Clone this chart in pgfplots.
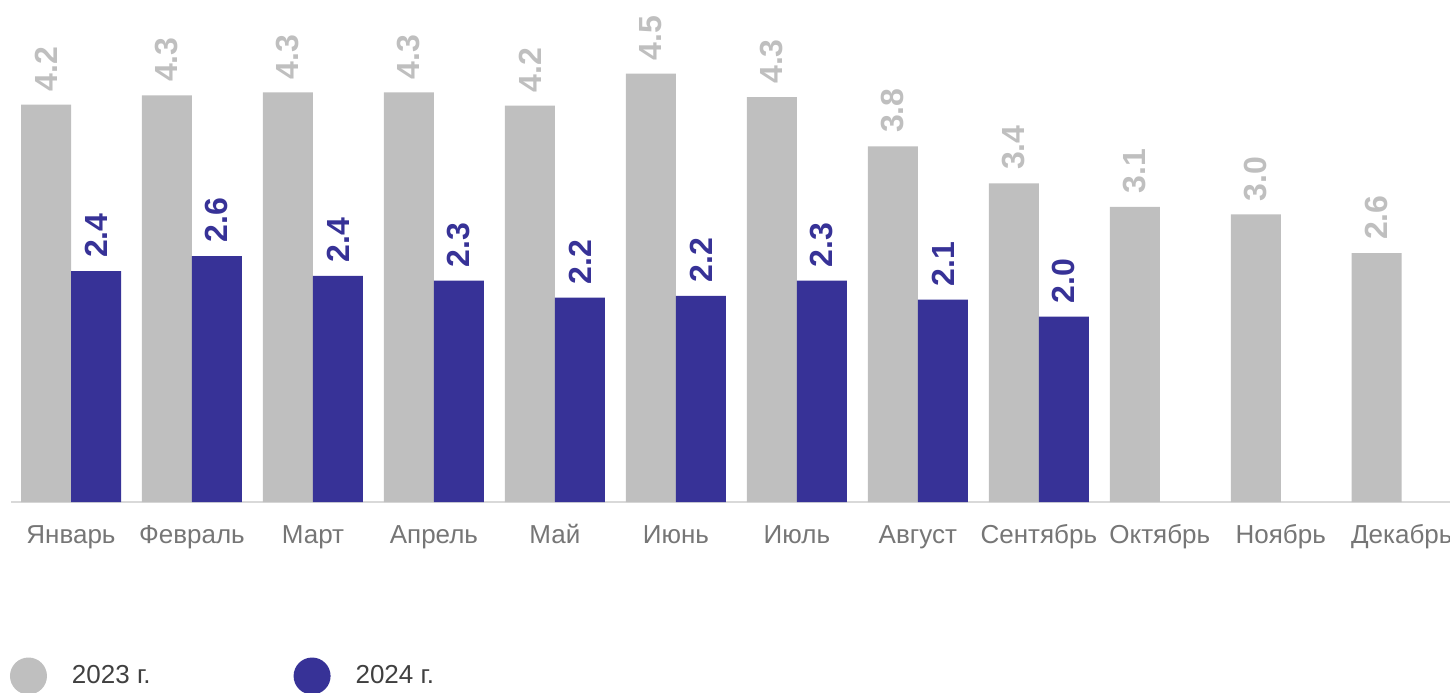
\documentclass[border=0pt]{standalone}
\usepackage{pgfplots}
\pgfplotsset{compat=1.18}
\usepackage{fontspec}
\setmainfont{Liberation Sans}
\definecolor{gbar}{HTML}{BFBFBF}
\definecolor{bbar}{HTML}{373297}
\definecolor{tickc}{HTML}{767676}
\definecolor{axl}{HTML}{D9D9D9}
\definecolor{legt}{HTML}{404040}
\pgfplotsset{circlegend/.style={legend image code/.code={\fill[draw=none] (9.25bp,0bp) circle (9.25bp);}}}
\begin{document}
\begin{tikzpicture}
\path[use as bounding box, clip] (0,0) rectangle (725bp,346.5bp);
\begin{axis}[
  at={(5.5bp,95.5bp)}, anchor=south west,
  scale only axis, width=719.5bp, height=227bp,
  xmin=-0.496, xmax=11.399, ymin=0, ymax=4.8,
  clip=false,
  ybar=0pt, bar width=25bp,
  axis x line*=bottom, axis y line=none,
  x axis line style={axl, line width=1bp, -},
  xtick={0,...,11},
  xticklabels={Январь,Февраль,Март,Апрель,Май,Июнь,Июль,Август,Сентябрь,Октябрь,Ноябрь,Декабрь},
  major tick length=0pt,
  xticklabel style={font=\fontsize{13bp}{15bp}\selectfont, text=tickc, anchor=base, yshift=-20.5bp},
  /pgf/number format/assume math mode=true,
  nodes near coords={\pgfmathprintnumber[fixed,fixed zerofill,precision=1]{\pgfplotspointmeta}},
  every node near coord/.append style={rotate=90, anchor=west, inner xsep=6.5bp, inner ysep=0pt, font=\fontsize{16bp}{19bp}\selectfont\bfseries},
  legend columns=-1,
  legend style={draw=none, fill=none, inner sep=0pt, outer sep=0pt,
    at={(axis description cs:-0.0007,-0.3833)}, anchor=west,
    font=\fontsize{13bp}{15bp}\selectfont, text=legt,
    nodes={inner sep=0pt},
    /tikz/every odd column/.append style={column sep=12.5bp},
    /tikz/every even column/.append style={column sep=71.5bp},
    /tikz/column 3/.append style={column sep=10bp}},
]
\addplot[fill=gbar, draw=none, circlegend, every node near coord/.append style={text=gbar}] coordinates {
(0,4.20) (1,4.30) (2,4.33) (3,4.33) (4,4.19) (5,4.53) (6,4.28) (7,3.76) (8,3.37) (9,3.12) (10,3.04) (11,2.63)};
\addlegendentry{2023 г.}
\addplot[fill=bbar, draw=none, circlegend, every node near coord/.append style={text=bbar}] coordinates {
(0,2.44) (1,2.60) (2,2.39) (3,2.34) (4,2.16) (5,2.18) (6,2.34) (7,2.14) (8,1.96)};
\addlegendentry{2024 г.}
\end{axis}
\end{tikzpicture}
\end{document}
